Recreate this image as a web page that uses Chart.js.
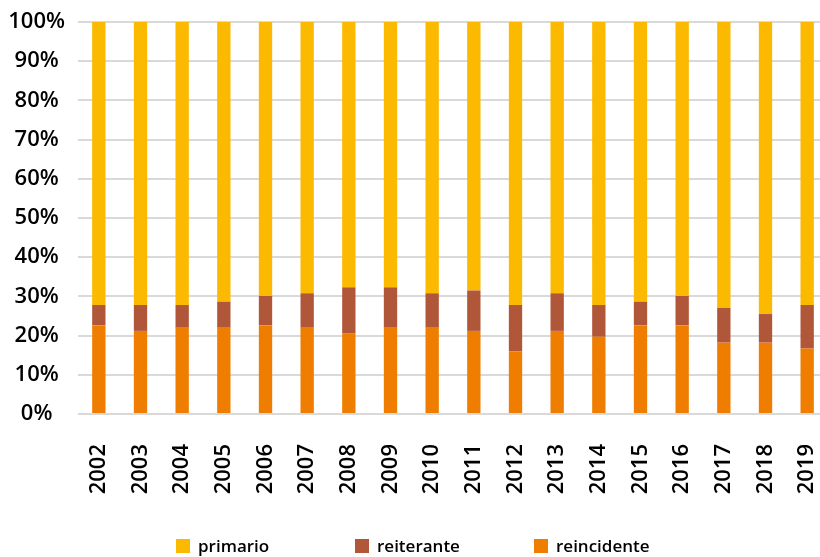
<!DOCTYPE html>
<html>
<head>
<meta charset="utf-8">
<script src="https://cdn.jsdelivr.net/npm/chart.js@4"></script>
<style>
  html, body { margin: 0; padding: 0; background: #fff; overflow: hidden; }
  #wrap { position: relative; width: 828px; height: 557px; }
  #legend { position: absolute; left: 0; top: 0; width: 820px; height: 557px; pointer-events: none;
            font-family: 'Open Sans', 'DejaVu Sans', sans-serif; font-weight: 600; font-size: 17px; color: #000; }
  .li { position: absolute; top: 534px; height: 24px; line-height: 24px; white-space: nowrap; }
  .sw { display: inline-block; width: 14px; height: 14px; vertical-align: middle; margin-right: 8px; position: relative; top: -1px; }
</style>
</head>
<body>
<div id="wrap">
  <canvas id="c" width="828" height="557"></canvas>
  <div id="legend"></div>
</div>
<script>
const years = ['2002','2003','2004','2005','2006','2007','2008','2009','2010','2011','2012','2013','2014','2015','2016','2017','2018','2019'];
const reincidente = [22.6,21.2,22.0,22.0,22.6,22.0,20.5,22.0,22.0,21.2,16.0,21.2,19.7,22.6,22.6,18.2,18.2,16.7];
const reiterante  = [5.2,6.6,5.8,6.6,7.5,8.8,11.8,10.3,8.8,10.3,11.8,9.6,8.1,6.0,7.5,8.9,7.3,11.1];
const primario    = [72.2,72.2,72.2,71.4,69.9,69.2,67.7,67.7,69.2,68.5,72.2,69.2,72.2,71.4,69.9,72.9,74.5,72.2];
const yTicks = [0,10,20,30,40,50,60,70,80,90,100];
const legendOrder = ['primario','reiterante','reincidente'];
const legendX = [176, 355, 534];

const FONT = "'Open Sans', 'DejaVu Sans', sans-serif";

const chart = new Chart(document.getElementById('c'), {
  type: 'bar',
  data: {
    labels: years,
    datasets: [
      { label: 'reincidente', data: reincidente, backgroundColor: '#EF7D00' },
      { label: 'reiterante', data: reiterante, backgroundColor: '#B0573A' },
      { label: 'primario', data: primario, backgroundColor: '#FBBA00' }
    ]
  },
  options: {
    responsive: false,
    animation: false,
    layout: { padding: { top: 22, right: 0, bottom: 58, left: 0 } },
    datasets: { bar: { barPercentage: 0.32, categoryPercentage: 1.0 } },
    scales: {
      x: {
        stacked: true,
        grid: { display: false },
        border: { display: false },
        ticks: {
          minRotation: 90, maxRotation: 90, padding: 22,
          color: '#000',
          font: { family: FONT, size: 22, weight: '600' }
        },
        afterFit: s => { s.height = 85; s.paddingLeft = 0; s.paddingRight = 0; }
      },
      y: {
        stacked: true,
        min: 0, max: 100,
        afterBuildTicks: s => { s.ticks = yTicks.map(v => ({ value: v })); },
        grid: { color: '#D9D9D9', lineWidth: 2, drawTicks: false },
        border: { display: false },
        ticks: {
          padding: 13,
          crossAlign: 'center',
          color: '#000',
          font: { family: FONT, size: 22, weight: '600' },
          callback: v => v + '%'
        },
        afterFit: s => { s.width = 78; s.paddingTop = 0; s.paddingBottom = 0; }
      }
    },
    plugins: {
      tooltip: { enabled: false },
      legend: { display: false }
    }
  }
});

// HTML legend built from the datasets
const lg = document.getElementById('legend');
legendOrder.forEach((name, i) => {
  const ds = chart.data.datasets.find(d => d.label === name);
  const item = document.createElement('div');
  item.className = 'li';
  item.style.left = legendX[i] + 'px';
  const sw = document.createElement('span');
  sw.className = 'sw';
  sw.style.background = ds.backgroundColor;
  item.appendChild(sw);
  item.appendChild(document.createTextNode(ds.label));
  lg.appendChild(item);
});
</script>
</body>
</html>
